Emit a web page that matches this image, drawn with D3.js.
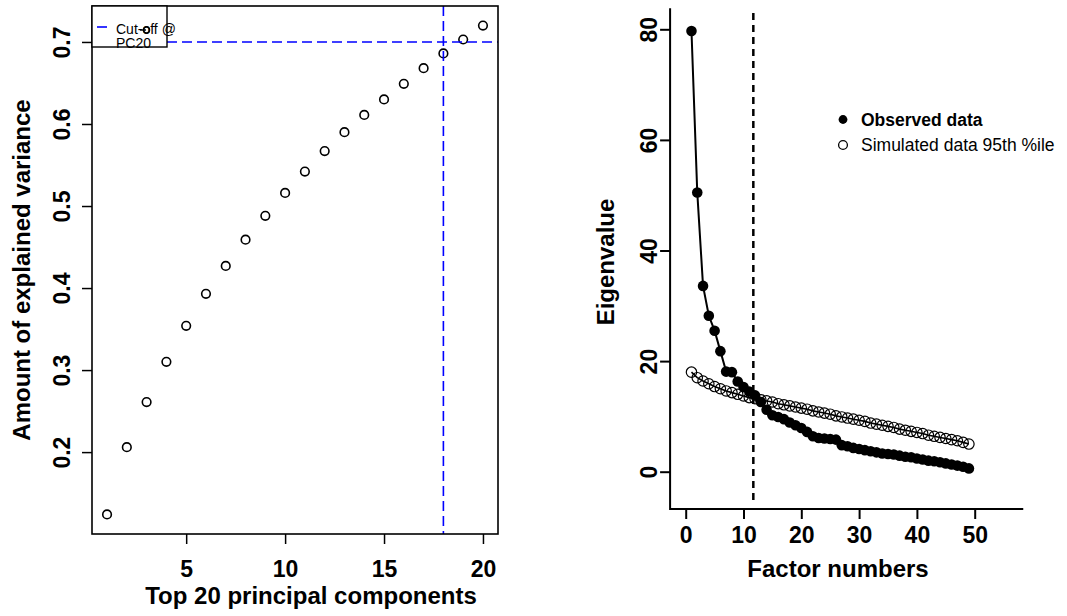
<!DOCTYPE html>
<html>
<head>
<meta charset="utf-8">
<script src="https://cdn.jsdelivr.net/npm/d3@7"></script>
<style>
  html, body { margin: 0; padding: 0; background: #fff; }
  svg { display: block; font-family: "Liberation Sans", Arial, Helvetica, sans-serif; }
</style>
</head>
<body>
<svg id="chart" width="1067" height="616"></svg>
<script>
// ---------- Data: left panel (cumulative explained variance) ----------
const pcIndex = d3.range(1, 21);
const explainedVariance = [0.124, 0.206, 0.261, 0.310, 0.354, 0.393, 0.427, 0.459, 0.488, 0.516,
  0.542, 0.567, 0.590, 0.611, 0.630, 0.649, 0.668, 0.686, 0.703, 0.720];
const leftXTicks = [5, 10, 15, 20];
const leftYTicks = [0.2, 0.3, 0.4, 0.5, 0.6, 0.7];
const cutoffPC = 18;
const cutoffVariance = 0.7;
const leftLegendLines = ["Cut-off @", "PC20"];

// ---------- Data: right panel (parallel analysis scree) ----------
const factorIndex = d3.range(1, 50);
const observedEigen = [79.7, 50.5, 33.6, 28.2, 25.5, 21.8, 18.1, 18.0, 16.3, 15.3,
  14.5, 13.8, 12.6, 11.2, 10.2, 9.9, 9.5, 8.9, 8.4, 7.9,
  7.2, 6.4, 6.1, 6.0, 5.9, 5.8, 4.8, 4.6, 4.3, 4.1,
  3.9, 3.7, 3.5, 3.3, 3.2, 3.1, 2.9, 2.7, 2.6, 2.4,
  2.2, 2.0, 1.9, 1.7, 1.5, 1.3, 1.1, 0.9, 0.6];
const simulatedEigen = [18.0, 17.0, 16.4, 15.9, 15.4, 15.0, 14.6, 14.3, 14.0, 13.7,
  13.4, 13.2, 13.0, 12.8, 12.6, 12.3, 12.1, 11.9, 11.7, 11.5,
  11.3, 11.0, 10.8, 10.6, 10.4, 10.1, 9.9, 9.7, 9.5, 9.3,
  9.1, 8.8, 8.6, 8.4, 8.2, 8.0, 7.7, 7.5, 7.3, 7.1,
  6.9, 6.6, 6.4, 6.2, 6.0, 5.8, 5.6, 5.3, 5.0];
const rightXTicks = [0, 10, 20, 30, 40, 50];
const rightYTicks = [0, 20, 40, 60, 80];
const factorCutoff = 11.7;
const legendLabels = ["Observed data", "Simulated data 95th %ile"];

// ---------- Drawing ----------
const svg = d3.select("#chart");
const tickFont = "23px", titleFont = "24px";

// ===== Left panel =====
const L = { left: 92, right: 498, top: 6, bottom: 534 };
function expand(ext) { const d = (ext[1] - ext[0]) * 0.04; return [ext[0] - d, ext[1] + d]; }
const xL = d3.scaleLinear().domain(expand(d3.extent(pcIndex))).range([L.left, L.right]);
const yL = d3.scaleLinear().domain(expand(d3.extent(explainedVariance))).range([L.bottom, L.top]);

const gL = svg.append("g");
// axes (ticks only)
const axLB = gL.append("g").attr("transform", `translate(0,${L.bottom})`)
  .call(d3.axisBottom(xL).tickValues(leftXTicks).tickSize(10).tickSizeOuter(0).tickFormat(d3.format("d")));
const axLL = gL.append("g").attr("transform", `translate(${L.left},0)`)
  .call(d3.axisLeft(yL).tickValues(leftYTicks).tickSize(10).tickSizeOuter(0).tickFormat(d3.format(".1f")));
[axLB, axLL].forEach(a => {
  a.select(".domain").remove();
  a.selectAll(".tick line").attr("stroke", "#000").attr("stroke-width", 1.5);
  a.selectAll(".tick text").attr("fill", "#000").style("font-size", tickFont).style("font-weight", "bold")
    .style("font-family", "Liberation Sans, Arial, sans-serif");
});
axLB.selectAll(".tick text").attr("y", 0).attr("dy", null).attr("transform", "translate(0,43)");
axLL.selectAll(".tick text").attr("x", 0).attr("dy", null).attr("text-anchor", "middle")
  .attr("transform", "translate(-22,0) rotate(-90)");

// points
gL.append("g").selectAll("circle").data(pcIndex).join("circle")
  .attr("cx", d => xL(d)).attr("cy", (d, i) => yL(explainedVariance[i])).attr("r", 4.3)
  .attr("fill", "none").attr("stroke", "#000").attr("stroke-width", 1.6);

// cutoff lines
gL.append("line").attr("x1", xL(cutoffPC)).attr("x2", xL(cutoffPC)).attr("y1", L.top).attr("y2", L.bottom)
  .attr("stroke", "#0000ff").attr("stroke-width", 1.6).attr("stroke-dasharray", "10,5");
gL.append("line").attr("x1", L.left).attr("x2", L.right).attr("y1", yL(cutoffVariance)).attr("y2", yL(cutoffVariance))
  .attr("stroke", "#0000ff").attr("stroke-width", 1.6).attr("stroke-dasharray", "10,5");

// box
gL.append("rect").attr("x", L.left).attr("y", L.top).attr("width", L.right - L.left).attr("height", L.bottom - L.top)
  .attr("fill", "none").attr("stroke", "#000").attr("stroke-width", 1.6);

// legend
const legL = gL.append("g");
legL.append("rect").attr("x", L.left).attr("y", L.top).attr("width", 75).attr("height", 41)
  .attr("fill", "#fff").attr("stroke", "none");
legL.append("line").attr("x1", 97).attr("x2", 107).attr("y1", 27).attr("y2", 27).attr("stroke", "#0000ff").attr("stroke-width", 1.6);
legL.selectAll("text").data(leftLegendLines).join("text")
  .attr("x", 116).attr("y", (d, i) => 34 + i * 14).style("font-size", "14px").attr("fill", "#000").text(d => d);
legL.append("line").attr("x1", 140).attr("x2", 146).attr("y1", 30).attr("y2", 30).attr("stroke", "#000").attr("stroke-width", 1.4);
legL.append("circle").attr("cx", 146.5).attr("cy", 30).attr("r", 3).attr("fill", "none").attr("stroke", "#000").attr("stroke-width", 1.4);
legL.append("rect").attr("x", L.left).attr("y", L.top).attr("width", 75).attr("height", 41)
  .attr("fill", "none").attr("stroke", "#000").attr("stroke-width", 1.4);

// titles
gL.append("text").attr("x", 311).attr("y", 604).attr("text-anchor", "middle")
  .style("font-size", titleFont).style("font-weight", "bold").text("Top 20 principal components");
gL.append("text").attr("transform", `translate(30,${(L.top + L.bottom) / 2}) rotate(-90)`).attr("text-anchor", "middle")
  .style("font-size", titleFont).style("font-weight", "bold").text("Amount of explained variance");

// ===== Right panel =====
const xR = d3.scaleLinear().domain([0, 50]).range([685.7, 974.7]);
const yR = d3.scaleLinear().domain([0, 80]).range([471.7, 29.3]);
const R = { axisX0: -2.7, axisX1: 58.4, axisY0: -6.75, axisY1: 83.8 };
const gR = svg.append("g");

const axRB = gR.append("g").attr("transform", `translate(0,${yR(R.axisY0)})`)
  .call(d3.axisBottom(xR).tickValues(rightXTicks).tickSize(10).tickSizeOuter(0));
const axRL = gR.append("g").attr("transform", `translate(${xR(R.axisX0)},0)`)
  .call(d3.axisLeft(yR).tickValues(rightYTicks).tickSize(10).tickSizeOuter(0));
[axRB, axRL].forEach(a => {
  a.select(".domain").remove();
  a.selectAll(".tick line").attr("stroke", "#000").attr("stroke-width", 2);
  a.selectAll(".tick text").attr("fill", "#000").style("font-size", tickFont).style("font-weight", "bold")
    .style("font-family", "Liberation Sans, Arial, sans-serif");
});
axRB.selectAll(".tick text").attr("y", 0).attr("dy", null).attr("transform", "translate(0,34)");
axRL.selectAll(".tick text").attr("x", 0).attr("dy", null).attr("text-anchor", "middle")
  .attr("transform", "translate(-13,0) rotate(-90)");
// axis lines (L shape)
gR.append("path")
  .attr("d", `M${xR(R.axisX0)},${yR(R.axisY1)}V${yR(R.axisY0)}H${xR(R.axisX1)}`)
  .attr("fill", "none").attr("stroke", "#000").attr("stroke-width", 2);

// cutoff dashed line
gR.append("line").attr("x1", xR(factorCutoff)).attr("x2", xR(factorCutoff)).attr("y1", 13).attr("y2", yR(R.axisY0) - 4)
  .attr("stroke", "#000").attr("stroke-width", 2.5).attr("stroke-dasharray", "7,5");

const lineGen = vals => d3.line().x((d, i) => xR(factorIndex[i])).y(d => yR(d))(vals);

// simulated
gR.append("g").selectAll("circle").data(simulatedEigen).join("circle")
  .attr("cx", (d, i) => xR(factorIndex[i])).attr("cy", d => yR(d)).attr("r", 5.2)
  .attr("fill", "none").attr("stroke", "#000").attr("stroke-width", 1.2);
gR.append("path").attr("d", lineGen(simulatedEigen)).attr("fill", "none").attr("stroke", "#000").attr("stroke-width", 1.6);

// observed
gR.append("path").attr("d", lineGen(observedEigen)).attr("fill", "none").attr("stroke", "#000").attr("stroke-width", 2);
gR.append("g").selectAll("circle").data(observedEigen).join("circle")
  .attr("cx", (d, i) => xR(factorIndex[i])).attr("cy", d => yR(d)).attr("r", 5.3)
  .attr("fill", "#000");

// legend
const legR = gR.append("g");
legR.append("circle").attr("cx", 843).attr("cy", 119.5).attr("r", 4.4).attr("fill", "#000");
legR.append("circle").attr("cx", 843).attr("cy", 145).attr("r", 4.4).attr("fill", "none").attr("stroke", "#000").attr("stroke-width", 1.3);
legR.append("text").attr("x", 861).attr("y", 125.5).style("font-size", "17.5px").style("font-weight", "bold").text(legendLabels[0]);
legR.append("text").attr("x", 861).attr("y", 151).style("font-size", "17.5px").text(legendLabels[1]);

// titles
gR.append("text").attr("x", 838).attr("y", 577).attr("text-anchor", "middle")
  .style("font-size", titleFont).style("font-weight", "bold").text("Factor numbers");
gR.append("text").attr("transform", `translate(614,262) rotate(-90)`).attr("text-anchor", "middle")
  .style("font-size", titleFont).style("font-weight", "bold").text("Eigenvalue");
</script>
</body>
</html>
